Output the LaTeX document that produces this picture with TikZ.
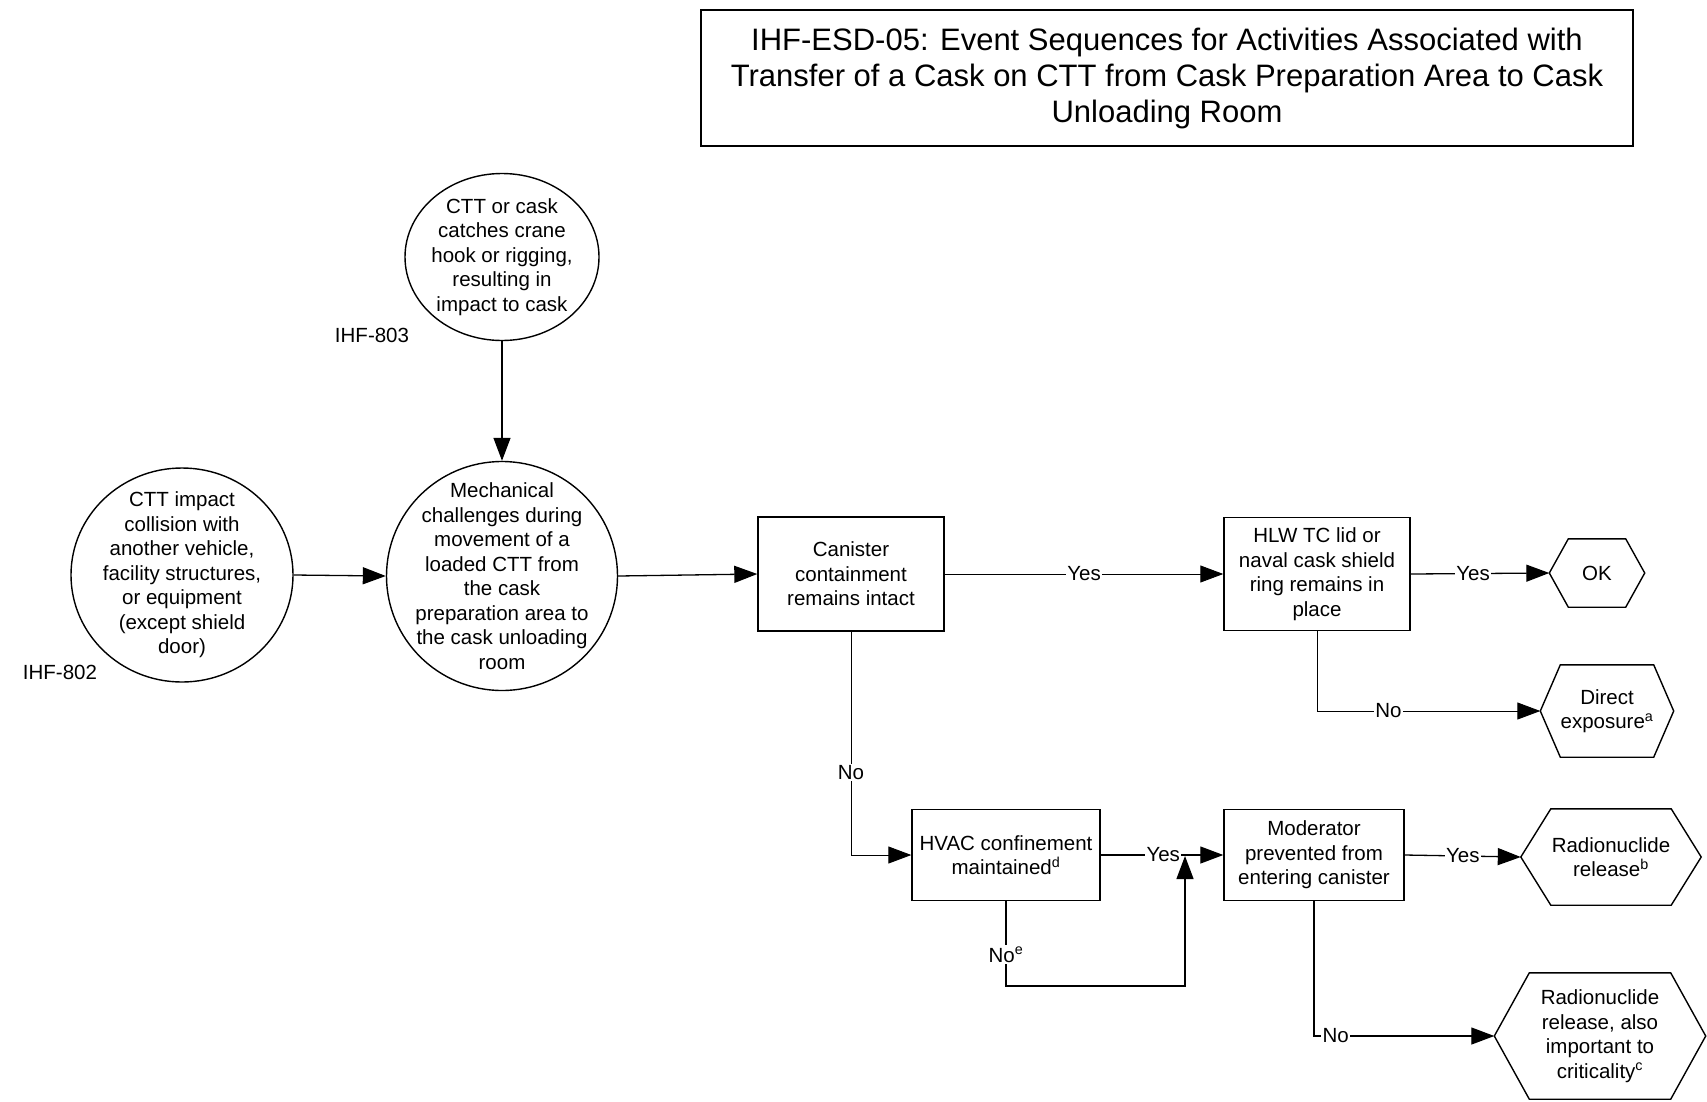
\documentclass[tikz,border=0pt]{standalone}
\usepackage{fontspec}
\setmainfont{Liberation Sans}
\usetikzlibrary{arrows.meta,shapes.geometric}

% outline of a hexagonal end state drawn around a named node
\newcommand\hexframe[2]{%
  \draw[line width=1.4pt] (#1.west) -- ([xshift=#2]#1.north west)
    -- ([xshift=-#2]#1.north east) -- (#1.east)
    -- ([xshift=-#2]#1.south east) -- ([xshift=#2]#1.south west) -- cycle;}

\begin{document}
\begin{tikzpicture}[x=1pt,y=-1pt,
  bodyfont/.style={font=\fontsize{20.5}{24.5}\selectfont},
  txt/.style={bodyfont, align=center, inner sep=0pt},
  cause/.style={draw, ellipse, line width=1.4pt, inner sep=0pt},
  stepbox/.style={draw, rectangle, line width=1.4pt, inner sep=0pt, bodyfont, align=center},
  endstate/.style={rectangle, inner sep=0pt, bodyfont, align=center},
  flow/.style={line width=1.3pt, -{Triangle[length=23pt,width=17pt]}},
  thinflow/.style={line width=0.9pt, -{Triangle[length=23pt,width=17pt]}},
  lbl/.style={fill=white, inner sep=1.5pt, bodyfont},
  idlbl/.style={inner sep=0pt, bodyfont}
]
\useasboundingbox (0,0) rectangle (1707,1101);

% title block
\node[draw, line width=1.4pt, minimum width=932pt, minimum height=136pt,
      align=center, inner sep=0pt, font=\fontsize{31}{36}\selectfont] (title) at (1167,78)
  {IHF-ESD-05: Event Sequences for Activities Associated with\\
   Transfer of a Cask on CTT from Cask Preparation Area to Cask\\
   Unloading Room};

% initiating events
\node[cause, minimum width=194pt, minimum height=167pt] (c803) at (502,257) {};
\node[txt] (t803) at (c803.center) {CTT or cask\\catches crane\\hook or rigging,\\resulting in\\impact to cask};
\node[idlbl] (id803) at (372,335) {IHF-803};

\node[cause, minimum width=222pt, minimum height=214pt] (c802) at (182,575) {};
\node[txt] (t802) at (c802.center) {CTT impact\\collision with\\another vehicle,\\facility structures,\\or equipment\\(except shield\\door)};
\node[idlbl] (id802) at (60,672) {IHF-802};

\node[cause, minimum width=231pt, minimum height=229pt] (cmech) at (502,576) {};
\node[txt] (tmech) at (cmech.center) {Mechanical\\challenges during\\movement of a\\loaded CTT from\\the cask\\preparation area to\\the cask unloading\\room};

% pivotal events
\node[stepbox, minimum width=186pt, minimum height=114pt] (canister) at (851,574) {Canister\\containment\\remains intact};
\node[stepbox, minimum width=186pt, minimum height=113pt] (hlw) at (1317,574) {HLW TC lid or\\naval cask shield\\ring remains in\\place};
\node[stepbox, minimum width=188pt, minimum height=91pt] (hvac) at (1006,855) {HVAC confinement\\maintained\textsuperscript{d}};
\node[stepbox, minimum width=180pt, minimum height=91pt] (moder) at (1314,855) {Moderator\\prevented from\\entering canister};

% end states
\node[endstate, minimum width=95pt, minimum height=68pt] (ok) at (1597,573) {OK};
\hexframe{ok}{19pt}
\node[endstate, minimum width=133pt, minimum height=92pt] (direct) at (1607,711) {Direct\\exposure\textsuperscript{a}};
\hexframe{direct}{20pt}
\node[endstate, minimum width=180pt, minimum height=96pt] (relb) at (1611,857) {Radionuclide\\release\textsuperscript{b}};
\hexframe{relb}{30pt}
\node[endstate, minimum width=211pt, minimum height=126pt] (relc) at (1600,1036) {Radionuclide\\release, also\\important to\\criticality\textsuperscript{c}};
\hexframe{relc}{35pt}

% connectors
\draw[flow] (c803.south) -- (cmech.north);
\draw[flow] (c802.east) -- (cmech.west);
\draw[flow] (cmech.east) -- (canister.west);

\draw[thinflow] (canister.east) -- node[lbl, pos=0.5] {Yes} (hlw.west);
\draw[flow] (hlw.east) -- node[lbl, pos=0.45] {Yes} (ok.west);
\draw[thinflow] (hlw.south) |- node[lbl, pos=0.66] {No} (direct.west);

\draw[thinflow] (canister.south) |- node[lbl, pos=0.315] {No} (hvac.west);
\draw[flow] (hvac.east) -- node[lbl, pos=0.51] {Yes} (moder.west);

\coordinate (hvdown) at (1006,986);
\coordinate (hvright) at (1185,986);
\coordinate (merge) at (1185,856);
\draw[flow] (hvac.south) -- node[lbl, pos=0.63] {No\textsuperscript{e}} (hvdown) -- (hvright) -- (merge);

\draw[flow] (moder.east) -- node[lbl, pos=0.5] {Yes} (relb.west);
\draw[flow] (moder.south) |- node[lbl, pos=0.56] {No} (relc.west);
\end{tikzpicture}
\end{document}
